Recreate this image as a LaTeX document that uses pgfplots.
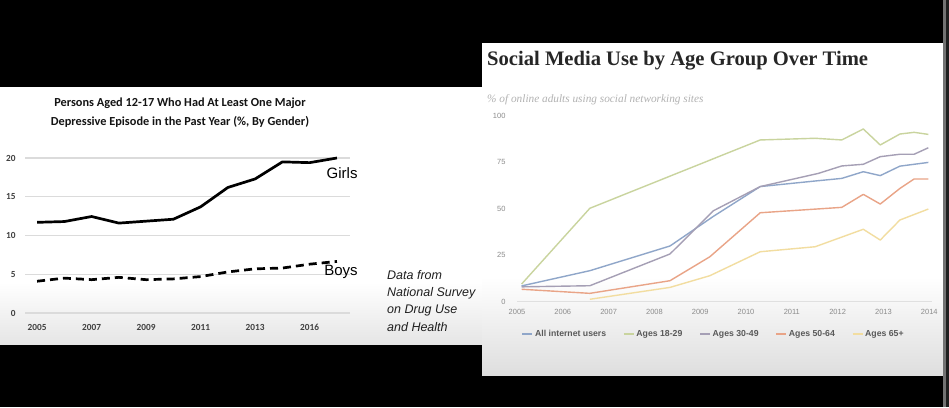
\documentclass[border=0pt]{standalone}
\usepackage{fontspec}
\setmainfont{Liberation Sans}
\newfontfamily\carlito{Carlito}
\newfontfamily\lserif{Liberation Serif}
\usepackage{pgfplots}
\pgfplotsset{compat=1.18}
\definecolor{cAll}{HTML}{8FA6C9}
\definecolor{cYoung}{HTML}{C9D49E}
\definecolor{cMid}{HTML}{A59FB5}
\definecolor{cOld}{HTML}{E9A487}
\definecolor{cSenior}{HTML}{F2DDA0}
\begin{document}
\begin{tikzpicture}[x=1pt,y=1pt]
\path[use as bounding box] (0,0) rectangle (949,407);
\fill[black] (0,0) rectangle (949,407);
% left slide
\fill[white] (0,63) rectangle (482,320);
\shade[top color=white,bottom color=black!10] (0,63) rectangle (482,125);
% right slide
\fill[white] (482,32) rectangle (943,364);
\shade[top color=white,bottom color=black!13] (482,32) rectangle (943,130);
\fill[black!55] (943,0) rectangle (946,407);
\fill[black!88] (946,0) rectangle (949,407);

\node[font=\carlito\bfseries\fontsize{12.3}{19}\selectfont, align=center, text=black!92] at (180,294.5)
  {Persons Aged 12-17 Who Had At Least One Major\\Depressive Episode in the Past Year (\%, By Gender)};

\node[font=\itshape\fontsize{12.5}{17.3}\selectfont, align=left, anchor=west, inner sep=0pt, text=black!88] at (387,106.2)
  {Data from\\National Survey\\on Drug Use\\and Health};

\node[font=\lserif\bfseries\fontsize{20.6}{24}\selectfont, anchor=base west, inner sep=0pt, text=black!85] at (487,341)
  {Social Media Use by Age Group Over Time};
\node[font=\lserif\itshape\fontsize{11.3}{13}\selectfont, anchor=west, inner sep=0pt, text=black!30] at (487,307.7)
  {\% of online adults using social networking sites};

% left chart
\begin{axis}[at={(25pt,94pt)}, anchor=south west, scale only axis,
  width=325pt, height=155pt,
  xmin=-0.444, xmax=11.48, ymin=0, ymax=20, clip=false,
  axis line style={draw=none}, major tick length=0pt,
  ymajorgrids, grid style={black!14, line width=1.2pt},
  ytick={0,5,10,15,20},
  xtick={0,2,4,6,8,10}, xticklabels={2005,2007,2009,2011,2013,2016},
  /pgf/number format/assume math mode=true,
  tick label style={font=\carlito\bfseries\fontsize{9.3}{10}\selectfont, text=black!75},
  yticklabel style={xshift=-6pt},
  xticklabel style={yshift=-8pt}]
\addplot[black, line width=2.7pt, line join=round] coordinates {
  (0,11.7) (1,11.8) (2,12.45) (3,11.6) (4,11.85) (5,12.1)
  (6,13.7) (7,16.2) (8,17.3) (9,19.5) (10,19.4) (11,20.0)};
\addplot[black, line width=2.7pt, dash pattern=on 8pt off 5pt] coordinates {
  (0,4.1) (1,4.5) (2,4.3) (3,4.6) (4,4.3) (5,4.4)
  (6,4.7) (7,5.3) (8,5.7) (9,5.8) (10,6.3) (11,6.65)};
\node[font=\fontsize{15}{18}\selectfont] at (axis cs:11.19,18.06) {Girls};
\node[font=\fontsize{15}{18}\selectfont] at (axis cs:11.15,5.24) {Boys};
\end{axis}

% right chart
\begin{axis}[at={(517pt,105.3pt)}, anchor=south west, scale only axis,
  width=415pt, height=185.7pt,
  xmin=2005, xmax=2014.06, ymin=0, ymax=100, clip=false,
  axis x line*=bottom, axis y line*=left,
  x axis line style={black!12, line width=0.8pt, -},
  y axis line style={draw=none},
  major tick length=0pt,
  xtick={2005,2006,2007,2008,2009,2010,2011,2012,2013,2014},
  xticklabels={2005,2006,2007,2008,2009,2010,2011,2012,2013,2014},
  ytick={0,25,50,75,100},
  /pgf/number format/assume math mode=true,
  tick label style={font=\fontsize{7.5}{9}\selectfont, text=black!45},
  yticklabel style={xshift=-8pt},
  xticklabel style={yshift=-4.5pt},
  legend style={at={(0.474,-0.174)}, anchor=center, legend columns=5, draw=none, fill=none,
    font=\bfseries\fontsize{8.7}{10}\selectfont, text=black!65,
    /tikz/every even column/.append style={column sep=15pt}},
  legend image code/.code={\draw[#1, line width=1.3pt] (0pt,0pt) -- (10pt,0pt);}]
\addplot[cAll, line width=1.4pt, line join=round] coordinates {
  (2005.1,8.5) (2006.59,16.7) (2008.34,30) (2009.29,46) (2010.31,62) (2011.51,65)
  (2012.09,66.4) (2012.56,70) (2012.93,67.9) (2013.36,73) (2013.67,74) (2013.98,75)};
\addlegendentry{All internet users}
\addplot[cYoung, line width=1.4pt, line join=round] coordinates {
  (2005.1,9.5) (2006.59,50.3) (2010.31,87.1) (2011.51,88) (2012.09,87.1) (2012.56,93)
  (2012.93,84.4) (2013.36,90.3) (2013.67,91.2) (2013.98,90.1)};
\addlegendentry{Ages 18-29}
\addplot[cMid, line width=1.4pt, line join=round] coordinates {
  (2005.1,8) (2006.59,8.6) (2008.34,25.7) (2009.29,49) (2010.31,62) (2011.58,69.1)
  (2012.09,73.1) (2012.56,74) (2012.93,78.1) (2013.36,79.4) (2013.67,79.4) (2013.98,82.9)};
\addlegendentry{Ages 30-49}
\addplot[cOld, line width=1.4pt, line join=round] coordinates {
  (2005.1,6.7) (2006.59,4.5) (2008.34,11.3) (2009.21,24.2) (2010.31,47.9) (2012.09,50.8)
  (2012.56,57.8) (2012.93,52.6) (2013.36,61) (2013.67,66.1) (2013.98,66.1)};
\addlegendentry{Ages 50-64}
\addplot[cSenior, line width=1.4pt, line join=round] coordinates {
  (2006.59,1.3) (2008.34,7.7) (2009.21,14) (2010.31,26.9) (2011.51,29.6) (2012.56,39)
  (2012.93,33.2) (2013.36,44) (2013.98,49.9)};
\addlegendentry{Ages 65+}
\end{axis}
\end{tikzpicture}
\end{document}
